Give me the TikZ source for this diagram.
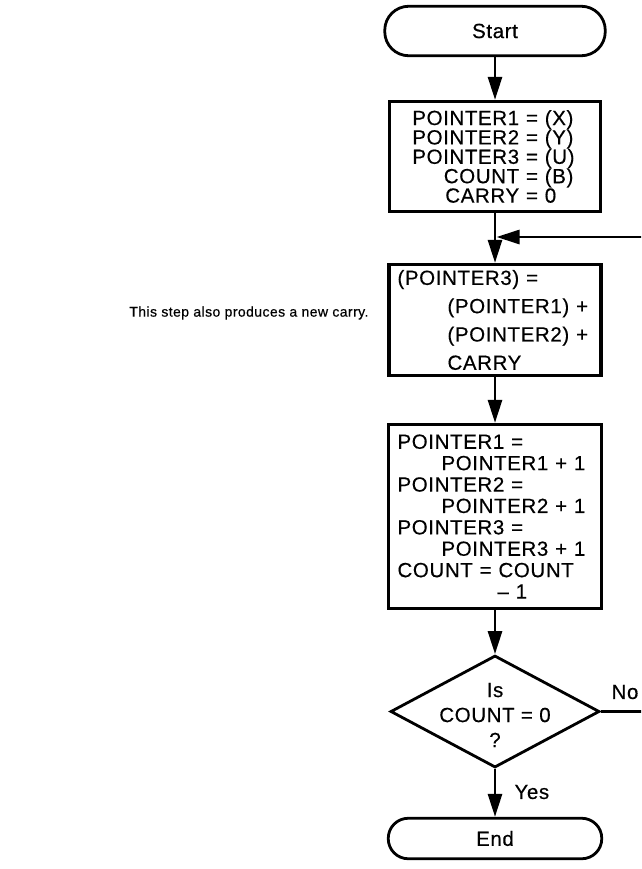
\documentclass[tikz,border=0pt]{standalone}
\usepackage{fontspec}
\setmainfont{Liberation Sans}[FakeBold=0.4, LetterSpace=3]
\usetikzlibrary{arrows.meta,shapes.geometric}
\newcommand\tightlines{\lineskiplimit=-40pt\relax}
\begin{document}
\begin{tikzpicture}[x=1pt,y=-1pt,
  every node/.style={font=\fontsize{20.5}{20.5}\selectfont\tightlines},
  box/.style={draw, line width=3.3pt, inner sep=0pt, align=left, text width=195pt},
  term/.style={draw, line width=2.8pt, inner sep=0pt},
  arr/.style={line width=2.8pt, -{Triangle[length=23pt,width=14pt]}},
  note/.style={font=\fontsize{14}{17}\selectfont}]
\useasboundingbox (0,0) rectangle (641,869);
\clip (0,0) rectangle (641,869);

% terminals
\node[term, minimum width=220.5pt, minimum height=49.5pt, rounded corners=24pt] (st) at (495,31) {Start};
\node[term, minimum width=213.5pt, minimum height=40.5pt, rounded corners=20pt] (en) at (495,838.5) {End};

% process boxes
\node[box, minimum width=211pt, minimum height=110pt, align=center, text width=200pt,
      font=\fontsize{20.5}{19.4}\selectfont\tightlines] (b1) at (495,156.5)
 {\makebox[110pt][r]{POINTER1} = \makebox[36pt][l]{(X)}\\
  \makebox[110pt][r]{POINTER2} = \makebox[36pt][l]{(Y)}\\
  \makebox[110pt][r]{POINTER3} = \makebox[36pt][l]{(U)}\\
  \makebox[110pt][r]{COUNT} = \makebox[36pt][l]{(B)}\\
  \makebox[110pt][r]{CARRY} = \makebox[36pt][l]{0}};

\node[box, minimum width=212pt, minimum height=111pt,
      font=\fontsize{20.5}{28.3}\selectfont\tightlines] (b2) at (495,320)
 {(POINTER3) =\\
  \hspace*{50pt}(POINTER1) +\\
  \hspace*{50pt}(POINTER2) +\\
  \hspace*{50pt}CARRY};

\node[box, minimum width=213pt, minimum height=184pt,
      font=\fontsize{20.5}{21.4}\selectfont\tightlines] (b3) at (495,516.5)
 {POINTER1 =\\
  \hspace*{44pt}POINTER1 + 1\\
  POINTER2 =\\
  \hspace*{44pt}POINTER2 + 1\\
  POINTER3 =\\
  \hspace*{44pt}POINTER3 + 1\\
  COUNT = COUNT\\
  \hspace*{100pt}– 1};

% decision
\node[draw, diamond, line width=2.8pt, inner sep=0pt, minimum width=209pt, minimum height=112pt] (d) at (495,711.5) {};
\node[align=center, font=\fontsize{20.5}{25}\selectfont\tightlines] (dt) at (495,715) {Is\\COUNT = 0\\?};

% labels
\node (no) at (625,692) {No};
\node[anchor=west] (yes) at (511,792) {Yes};
\node[note, anchor=east] (nt) at (372,313) {This step also produces a new carry.};

% connectors
\coordinate (j) at (496.5,237);
\coordinate (r1) at (660,711.5);
\coordinate (r2) at (660,237);
\draw[arr] (st) -- (b1);
\draw[arr] (b1) -- (b2);
\draw[arr] (b2) -- (b3);
\draw[arr] (b3) -- (d);
\draw[arr] (d) -- (en);
\draw[arr] (d.east) -- (r1) -- (r2) -- (j);
\end{tikzpicture}
\end{document}
